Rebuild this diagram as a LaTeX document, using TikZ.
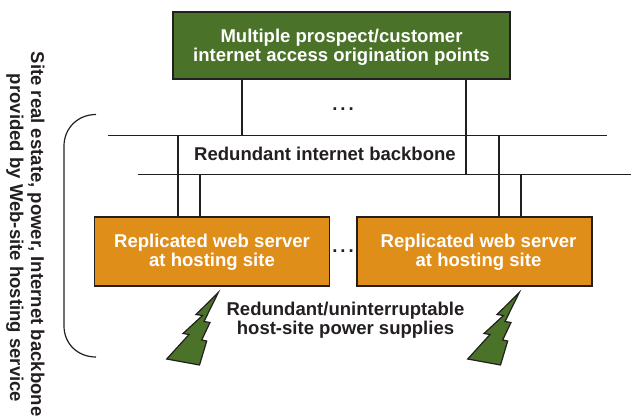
\documentclass[tikz,border=0pt]{standalone}
\usepackage{fontspec}
\setmainfont{Liberation Sans}
\definecolor{boxgreen}{RGB}{74,114,41}
\definecolor{boxorange}{RGB}{224,142,26}
\definecolor{inkdark}{RGB}{35,31,32}
\tikzset{
  hostbox/.style={draw=inkdark,line width=1.2pt,fill=boxorange,text=white,font=\bfseries\fontsize{13.9}{14.4}\selectfont,align=center,minimum width=176.2pt,minimum height=52pt,inner sep=0pt,text height=25.5pt},
  originbox/.style={draw=inkdark,line width=1.6pt,fill=boxgreen,text=white,font=\bfseries\fontsize{13.9}{14.4}\selectfont,align=center,minimum width=252.5pt,minimum height=50.5pt,inner sep=0pt,text height=27pt},
  wire/.style={draw=inkdark,line width=1.4pt},
  label/.style={text=inkdark,font=\bfseries\fontsize{13.9}{14.4}\selectfont,align=center,inner sep=0.75pt},
}
\begin{document}
\begin{tikzpicture}[x=0.75pt,y=0.75pt,yscale=-1,xscale=1]
\useasboundingbox (0,0) rectangle (631,415);

% Boxes
\node [originbox] (origin) at (341.5,45.5) {Multiple prospect/customer\\internet access origination points};
\node [hostbox] (hostA) at (212,251.5) {Replicated web server\\at hosting site};
\node [hostbox] (hostB) at (474.5,251.5) {\hspace*{6pt}Replicated web server\\\hspace*{6pt}at hosting site};

% Backbone ends and taps
\coordinate (busAstart) at (108,135.5);
\coordinate (busAend) at (607,135.5);
\coordinate (busBstart) at (138,174.5);
\coordinate (busBend) at (631,174.5);
\coordinate (tapOrigA) at (242,135.5);
\coordinate (tapOrigB) at (465.7,174.5);
\coordinate (tapHostA) at (177.7,135.5);
\coordinate (tapHostAb) at (200.3,174.5);
\coordinate (tapHostB) at (498.7,135.5);
\coordinate (tapHostBb) at (521,174.5);

%Straight Lines
\draw [wire] (busAstart) -- (busAend);
\draw [wire] (busBstart) -- (busBend);
\draw [wire] (origin.south -| tapOrigA) -- (tapOrigA);
\draw [wire] (origin.south -| tapOrigB) -- (tapOrigB);
\draw [wire] (tapHostA) -- (hostA.north -| tapHostA);
\draw [wire] (tapHostAb) -- (hostA.north -| tapHostAb);
\draw [wire] (tapHostB) -- (hostB.north -| tapHostB);
\draw [wire] (tapHostBb) -- (hostB.north -| tapHostBb);

%Bracket
\coordinate (brackTop) at (96,114.5);
\coordinate (brackBot) at (96,357);
\draw [draw=inkdark,line width=0.9pt] (brackTop) .. controls (78,114.5) and (64,128) .. (64,146) -- (64,326) .. controls (64,344) and (78,357) .. (brackBot);

%Power bolts
\foreach \boltx in {0,301} {
\draw [draw=inkdark,line width=0.9pt,fill=boxgreen,shift={(\boltx,0)}] (218.3,292.5) -- (196,314.5) -- (202.5,315.5) -- (183,333.5) -- (189,334.5) -- (166.7,359) -- (199.5,365) -- (206.7,341) -- (201.7,340) -- (210,322.5) -- (204,321.5) -- cycle;
}

% Text Node
\node [label] (dotsTop) at (343,109) {.\kern2.2pt.\kern2.2pt.};
\node [label] (dotsMid) at (343,251) {.\kern2.2pt.\kern2.2pt.};
\node [label] (backbone) at (325,153.5) {Redundant internet backbone};
\node [label] (power) at (345.5,320.5) {Redundant/uninterruptable\\host-site power supplies};
\node [label,rotate=-90] (siteA) at (36,234) {Site real estate, power, Internet backbone};
\node [label,rotate=-90] (siteB) at (15,238) {provided by Web-site hosting service};
\end{tikzpicture}
\end{document}
